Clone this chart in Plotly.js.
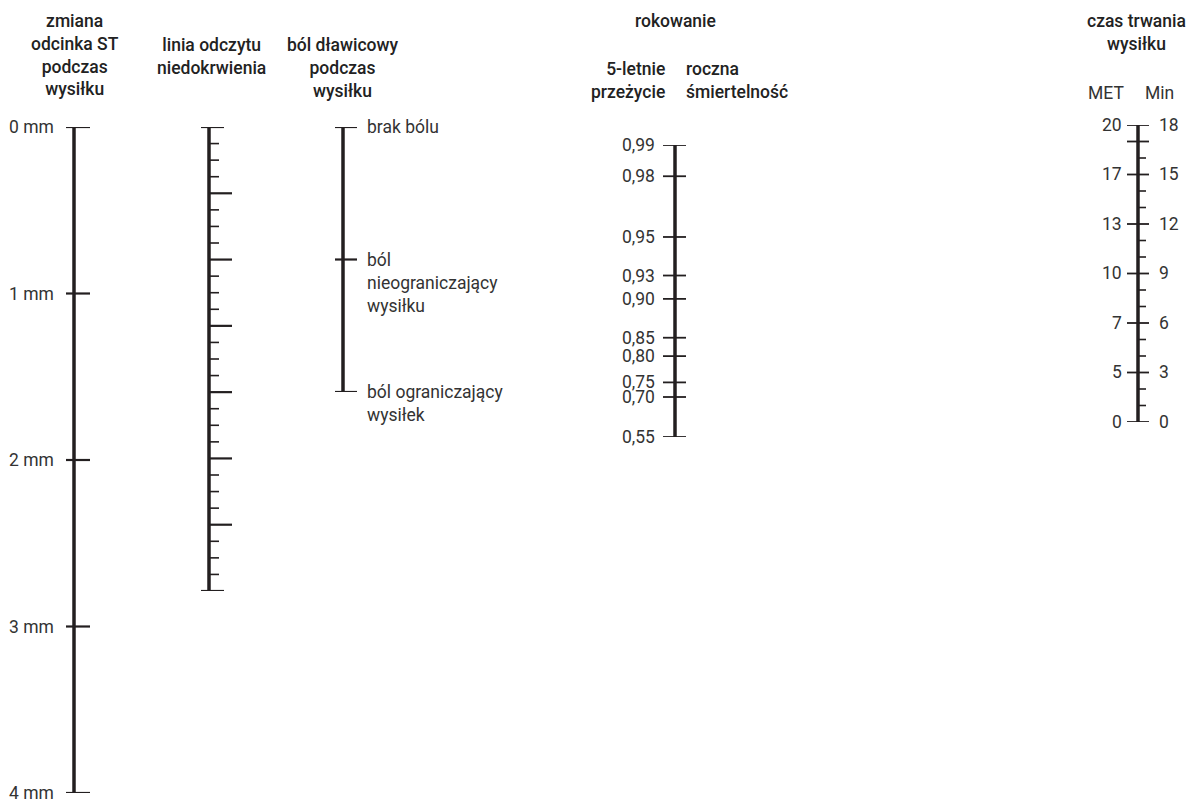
<!DOCTYPE html>
<html>
<head>
<meta charset="utf-8">
<script src="https://cdn.plot.ly/plotly-3.0.1.min.js"></script>
<style>html,body{margin:0;padding:0;background:#fff;}#chart{width:1187px;height:799px;}</style>
</head>
<body>
<div id="chart"></div>
<script>
// ---------- DATA ----------
const stValues = [0, 1, 2, 3, 4];
const stLabels = ['0 mm', '1 mm', '2 mm', '3 mm', '4 mm'];

const readingMajor = [0, 1, 2, 3, 4, 5, 6, 7];
const readingMinorPerMajor = 4;

const anginaValues = [0, 1, 2];
const anginaLabels = ['brak bólu', 'ból<br>nieograniczający<br>wysiłku', 'ból ograniczający<br>wysiłek'];

const survivalLabels = ['0,99', '0,98', '0,95', '0,93', '0,90', '0,85', '0,80', '0,75', '0,70', '0,55'];
const survivalPos = [0, 0.107, 0.315, 0.447, 0.527, 0.660, 0.723, 0.813, 0.863, 1.0];

const minuteTicks = [0,1,2,3,4,5,6,7,8,9,10,11,12,13,14,15,16,17,18];
const labelledMinutes = [0, 3, 6, 9, 12, 15, 18];
const minLabels = ['0', '3', '6', '9', '12', '15', '18'];
const metLabels = ['0', '5', '7', '10', '13', '17', '20'];
const extraLongMinutes = [17];

const headers = {
  st: 'zmiana<br>odcinka ST<br>podczas<br>wysiłku',
  reading: 'linia odczytu<br>niedokrwienia',
  angina: 'ból dławicowy<br>podczas<br>wysiłku',
  prognosis: 'rokowanie',
  survival: '5-letnie<br>przeżycie',
  mortality: 'roczna<br>śmiertelność',
  time: 'czas trwania<br>wysiłku',
  met: 'MET',
  min: 'Min'
};

// ---------- STYLE / LAYOUT ----------
const H = 799, W = 1187;
const FONT = 'Roboto, Lato, sans-serif';
const TXT = '#333333';
const LINE = '#231f20';
const FS = 17.5;
const dom = (top, bottom) => [1 - bottom / H, 1 - top / H];
const py = px => 1 - px / H;

const traces = [];
const annotations = [];

function axisLine(x, y0, y1, yaxis) {
  traces.push({x: [x, x], y: [y0, y1], yaxis: yaxis, mode: 'lines', cliponaxis: false,
    line: {color: LINE, width: 3.5}, hoverinfo: 'skip', showlegend: false});
}
function tickSet(vals, x0, x1, yaxis, width) {
  const xs = [], ys = [];
  vals.forEach(v => { xs.push(x0, x1, null); ys.push(v, v, null); });
  traces.push({x: xs, y: ys, yaxis: yaxis, mode: 'lines', cliponaxis: false,
    line: {color: LINE, width: width || 2}, hoverinfo: 'skip', showlegend: false});
}
function label(text, x, y, yref, xanchor, extra) {
  annotations.push(Object.assign({text: text, x: x, y: y, xref: 'x', yref: yref,
    xanchor: xanchor, yanchor: 'middle', showarrow: false,
    font: {family: FONT, size: FS, color: TXT}}, extra || {}));
}
function header(text, x, topPx, xanchor, align) {
  annotations.push({text: text, x: x, y: py(topPx), xref: 'x', yref: 'paper',
    xanchor: xanchor || 'center', yanchor: 'top', align: align || 'center', showarrow: false,
    font: {family: FONT, size: FS, color: '#222222', weight: 500}});
}

// 1) ST change
const xST = 74;
axisLine(xST, stValues[0], stValues[stValues.length - 1], 'y');
tickSet(stValues, 66, 90, 'y', 2.2);
stValues.forEach((v, i) => label(stLabels[i], 56, v, 'y', 'right'));

// 2) reading line
const xR = 209;
axisLine(xR, readingMajor[0], readingMajor[readingMajor.length - 1], 'y2');
tickSet([readingMajor[0], readingMajor[readingMajor.length - 1]], 201, 224, 'y2', 2.2);
tickSet(readingMajor.slice(1, -1), xR, 232, 'y2', 2.2);
const minor = [];
for (let i = 0; i < readingMajor.length - 1; i++)
  for (let k = 1; k < readingMinorPerMajor; k++) minor.push(readingMajor[i] + k / readingMinorPerMajor);
tickSet(minor, xR, 219, 'y2', 1.6);

// 3) angina
const xA = 343;
axisLine(xA, anginaValues[0], anginaValues[anginaValues.length - 1], 'y3');
tickSet(anginaValues, 335, 357, 'y3', 2.2);
anginaValues.forEach((v, i) => label(anginaLabels[i], 365, v, 'y3', 'left', {yanchor: 'top', yshift: 12, align: 'left'}));

// 4) prognosis
const xP = 675;
axisLine(xP, survivalPos[0], survivalPos[survivalPos.length - 1], 'y4');
tickSet(survivalPos, 663, 686, 'y4', 1.8);
survivalPos.forEach((v, i) => label(survivalLabels[i], 657, v, 'y4', 'right'));

// 5) exercise time
const xT = 1138;
axisLine(xT, minuteTicks[0], minuteTicks[minuteTicks.length - 1], 'y5');
const longT = labelledMinutes.concat(extraLongMinutes);
tickSet(longT, 1127, 1149, 'y5', 1.8);
tickSet(minuteTicks.filter(m => longT.indexOf(m) < 0), xT, 1146, 'y5', 1.6);
labelledMinutes.forEach((m, i) => {
  label(metLabels[i], 1124, m, 'y5', 'right');
  label(minLabels[i], 1157, m, 'y5', 'left');
});

// headers
header(headers.st, 75, 9);
header(headers.reading, 211, 33);
header(headers.angina, 342, 33);
header(headers.prognosis, 675, 9);
header(headers.survival, 667, 57, 'right', 'right');
header(headers.mortality, 684, 57, 'left', 'left');
header(headers.time, 1136, 9);
annotations.push({text: headers.met, x: 1106, y: py(81), xref: 'x', yref: 'paper', xanchor: 'center', yanchor: 'top', showarrow: false, font: {family: FONT, size: FS, color: TXT}});
annotations.push({text: headers.min, x: 1159, y: py(81), xref: 'x', yref: 'paper', xanchor: 'center', yanchor: 'top', showarrow: false, font: {family: FONT, size: FS, color: TXT}});

const hidden = {visible: false, fixedrange: true};
const layout = {
  width: W, height: H,
  margin: {l: 0, r: 0, t: 0, b: 0},
  paper_bgcolor: '#ffffff', plot_bgcolor: 'rgba(0,0,0,0)',
  showlegend: false,
  xaxis: Object.assign({range: [0, W], domain: [0, 1]}, hidden),
  yaxis: Object.assign({domain: dom(127, 793), range: [4, 0]}, hidden),
  yaxis2: Object.assign({domain: dom(127, 591), range: [7, 0], anchor: 'x'}, hidden),
  yaxis3: Object.assign({domain: dom(127, 392), range: [2, 0], anchor: 'x'}, hidden),
  yaxis4: Object.assign({domain: dom(145, 437), range: [1, 0], anchor: 'x'}, hidden),
  yaxis5: Object.assign({domain: dom(125, 422), range: [0, 18], anchor: 'x'}, hidden),
  annotations: annotations
};

Plotly.newPlot('chart', traces, layout, {displayModeBar: false, staticPlot: true});
</script>
</body>
</html>
